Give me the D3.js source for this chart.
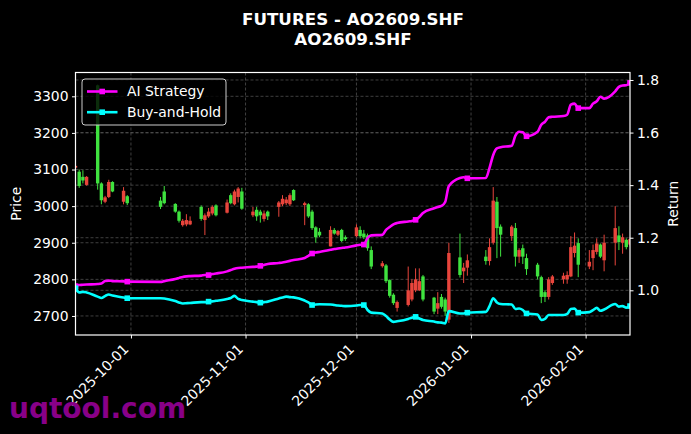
<!DOCTYPE html>
<html>
<head>
<meta charset="utf-8">
<script src="https://cdn.jsdelivr.net/npm/d3@7"></script>
<style>
  body{margin:0;background:#000;}
  text{font-family:"DejaVu Sans",sans-serif;}
</style>
</head>
<body>
<div id="container"></div>
<script>
let w = 691;
let h = 434;

// trading days
let dates = [
  "2025-09-16","2025-09-17","2025-09-18","2025-09-19","2025-09-22","2025-09-23","2025-09-24","2025-09-25","2025-09-26","2025-09-29","2025-09-30",
  "2025-10-09","2025-10-10","2025-10-13","2025-10-14","2025-10-15","2025-10-16","2025-10-17","2025-10-20","2025-10-21","2025-10-22","2025-10-23","2025-10-24","2025-10-27","2025-10-28","2025-10-29","2025-10-30","2025-10-31",
  "2025-11-03","2025-11-04","2025-11-05","2025-11-06","2025-11-07","2025-11-10","2025-11-11","2025-11-12","2025-11-13","2025-11-14","2025-11-17","2025-11-18","2025-11-19","2025-11-20","2025-11-21","2025-11-24","2025-11-25","2025-11-26","2025-11-27","2025-11-28",
  "2025-12-01","2025-12-02","2025-12-03","2025-12-04","2025-12-05","2025-12-08","2025-12-09","2025-12-10","2025-12-11","2025-12-12","2025-12-15","2025-12-16","2025-12-17","2025-12-18","2025-12-19","2025-12-22","2025-12-23","2025-12-24","2025-12-25","2025-12-26","2025-12-29","2025-12-30","2025-12-31",
  "2026-01-05","2026-01-06","2026-01-07","2026-01-08","2026-01-09","2026-01-12","2026-01-13","2026-01-14","2026-01-15","2026-01-16","2026-01-19","2026-01-20","2026-01-21","2026-01-22","2026-01-23","2026-01-26","2026-01-27","2026-01-28","2026-01-29","2026-01-30",
  "2026-02-02","2026-02-03","2026-02-04","2026-02-05","2026-02-06","2026-02-09","2026-02-10","2026-02-11","2026-02-12","2026-02-13"
];

let opens = [
  3105,3094,3080,3058,3330,3062,3012,3025,3066,3012,3027,
  3015,3040,3006,2985,2948,2950,2950,2998,2962,2972,2980,3002,2982,3030,3005,3025,3040,
  2975,2990,2985,2965,2985,2998,3005,3008,3005,3044,3003,3005,2985,2942,2930,2890,2935,2922,2935,2915,
  2918,2935,2925,2920,2880,2836,2838,2798,2758,2722,2730,2745,2770,2770,2808,2750,2720,2752,2745,2690,2860,2822,2832,
  2862,2850,2900,3012,2944,2918,2940,2862,2885,2858,2840,2806,2765,2752,2790,2800,2800,2808,2872,2899,
  2835,2858,2875,2895,2852,2900,2920,2900,2908,2895
];
let highs = [
  3112,3100,3098,3082,3332,3065,3028,3072,3068,3052,3030,
  3025,3055,3008,2988,2965,2978,2972,3002,2980,2995,3002,3005,3018,3035,3045,3052,3050,
  2998,2998,2990,2988,2988,3014,3030,3025,3035,3046,3012,3008,2990,2945,2940,2945,2940,2935,2938,2920,
  2950,2945,2935,2925,2890,2850,2842,2800,2762,2742,2835,2800,2830,2830,2812,2752,2765,2760,2750,2900,2925,2845,2868,
  2880,2912,3052,3025,2950,2948,2954,2885,2895,2870,2845,2810,2770,2806,2812,2818,2822,2918,2928,2912,
  2880,2895,2912,2898,2922,3000,2945,2925,2912,2915
];
let lows = [
  3103,3050,3062,3056,3045,3005,3008,3022,3038,3005,3003,
  2992,3005,2982,2955,2944,2945,2948,2960,2921,2968,2975,2972,2980,3005,3002,3010,2990,
  2970,2960,2955,2958,2962,2971,3000,3003,3000,3014,2948,2968,2935,2900,2915,2890,2922,2918,2902,2905,
  2915,2912,2910,2878,2828,2832,2790,2750,2730,2712,2726,2740,2765,2768,2740,2705,2705,2720,2700,2681,2805,2790,2810,
  2840,2838,2895,2858,2862,2905,2835,2845,2842,2812,2800,2735,2738,2745,2785,2788,2788,2806,2860,2806,
  2828,2825,2868,2858,2822,2838,2880,2870,2882,2890
];
let closes = [
  3110,3055,3070,3080,3062,3016,3024,3066,3040,3042,3008,
  2998,3008,2985,2960,2960,2962,2960,2965,2975,2985,2998,2975,3010,3008,3040,3048,2993,
  2985,2972,2975,2980,2972,3010,3020,3018,3030,3016,3008,2972,2940,2915,2920,2935,2925,2932,2905,2910,
  2942,2918,2915,2885,2835,2844,2795,2755,2735,2738,2770,2790,2800,2795,2745,2712,2735,2725,2712,2872,2812,2832,2852,
  2850,2888,3015,2940,2922,2944,2862,2880,2862,2828,2808,2752,2752,2800,2808,2810,2812,2888,2892,2840,
  2848,2880,2898,2862,2900,2940,2902,2915,2888,2910
];

let aiStrategy = [
  1.016,1.020,1.021,1.022,1.024,1.026,1.035,1.037,1.035,1.034,1.033,
  1.032,1.035,1.043,1.047,1.051,1.053,1.054,1.056,1.058,1.058,1.062,1.064,1.072,1.077,1.082,1.085,1.086,
  1.089,1.090,1.093,1.096,1.100,1.104,1.106,1.109,1.112,1.115,1.123,1.131,1.140,1.144,1.146,1.154,1.157,1.159,1.161,1.163,
  1.171,1.173,1.174,1.199,1.209,1.211,1.230,1.241,1.251,1.256,1.262,1.264,1.268,1.279,1.294,1.312,1.317,1.321,1.336,1.397,1.427,1.430,1.426,
  1.427,1.466,1.515,1.540,1.544,1.550,1.588,1.603,1.601,1.586,1.603,1.630,1.641,1.658,1.660,1.663,1.668,1.706,1.710,1.693,
  1.693,1.710,1.719,1.736,1.729,1.757,1.774,1.779,1.780,1.789
];
let buyHold = [
  1.008,0.992,0.994,0.992,0.976,0.971,0.978,0.984,0.980,0.973,0.970,
  0.970,0.969,0.959,0.954,0.950,0.951,0.952,0.955,0.955,0.957,0.958,0.960,0.967,0.971,0.979,0.967,0.963,
  0.957,0.955,0.953,0.955,0.957,0.969,0.973,0.976,0.974,0.973,0.961,0.954,0.944,0.946,0.947,0.946,0.944,0.942,0.941,0.940,
  0.942,0.944,0.944,0.925,0.915,0.912,0.902,0.889,0.880,0.882,0.891,0.896,0.899,0.893,0.887,0.881,0.878,0.877,0.874,0.921,0.912,0.912,0.915,
  0.918,0.940,0.970,0.954,0.948,0.946,0.929,0.931,0.925,0.912,0.908,0.887,0.891,0.906,0.906,0.906,0.910,0.929,0.931,0.915,
  0.917,0.925,0.933,0.922,0.927,0.948,0.938,0.940,0.934,0.940
];

let priceTicks = [2700,2800,2900,3000,3100,3200,3300];
let returnTicks = [1.0,1.2,1.4,1.6,1.8];
let dateTicks = ["2025-10-01","2025-11-01","2025-12-01","2026-01-01","2026-02-01"];
let seriesNames = ["AI Strategy","Buy-and-Hold"];
let seriesColors = ["#ff00ff","#00ffff"];

let parse = d3.timeParse("%Y-%m-%d");
let fmt = d3.timeFormat("%Y-%m-%d");

let pLeft = 75.5, pRight = 630, pTop = 72.5, pBottom = 335;

let rows = dates.map(function(d,i){
  return {date:parse(d), o:opens[i], h:highs[i], l:lows[i], c:closes[i], ai:aiStrategy[i], bh:buyHold[i], i:i};
});

let x = d3.scaleTime()
  .domain([parse("2025-09-16"), parse("2026-02-13")])
  .range([pLeft, pRight]);
let yPrice = d3.scaleLinear().domain([2648, 3365]).range([pBottom, pTop]);
let yRet = d3.scaleLinear().domain([0.830, 1.8285]).range([pBottom, pTop]);

let viz = d3.select("#container")
  .append("svg")
    .attr("width",w)
    .attr("height",h)
    .style("background-color","#000")
;

viz.append("defs").append("clipPath").attr("id","plotclip")
  .append("rect").attr("x",pLeft).attr("y",pTop).attr("width",pRight-pLeft).attr("height",pBottom-pTop);

// grid
let grid = viz.append("g").attr("stroke","#5a5a5a").attr("stroke-width",0.7).attr("stroke-dasharray","3,2");
dateTicks.forEach(function(t){
  grid.append("line").attr("x1",x(parse(t))).attr("x2",x(parse(t))).attr("y1",pTop).attr("y2",pBottom);
});
priceTicks.forEach(function(t){
  grid.append("line").attr("x1",pLeft).attr("x2",pRight).attr("y1",yPrice(t)).attr("y2",yPrice(t));
});
returnTicks.forEach(function(t){
  grid.append("line").attr("x1",pLeft).attr("x2",pRight).attr("y1",yRet(t)).attr("y2",yRet(t));
});

// candles
let up = "#e8453c", down = "#3fe23f";
let bw = 3.4;
let candles = viz.append("g").attr("clip-path","url(#plotclip)")
  .selectAll(".candle").data(rows).enter()
  .append("g").attr("class","candle");

candles.append("line")
  .attr("x1",d=>x(d.date)).attr("x2",d=>x(d.date))
  .attr("y1",d=>yPrice(d.h)).attr("y2",d=>yPrice(d.l))
  .attr("stroke",d=>d.c>=d.o?up:down).attr("stroke-width",1);

candles.append("rect")
  .attr("x",d=>x(d.date)-bw/2).attr("width",bw)
  .attr("y",d=>yPrice(Math.max(d.o,d.c)))
  .attr("height",d=>Math.max(1,Math.abs(yPrice(d.o)-yPrice(d.c))))
  .attr("fill",d=>d.c>=d.o?up:down);

// legend box (sits under the return lines)
let legend = viz.append("g");
legend.append("rect")
  .attr("x",82).attr("y",79).attr("width",144).attr("height",46).attr("rx",3)
  .attr("fill","#000").attr("fill-opacity",0.8)
  .attr("stroke","#cccccc").attr("stroke-width",1);

// return lines
let lineGroup = viz.append("g").attr("clip-path","url(#plotclip)");
let keys = ["ai","bh"];
keys.forEach(function(k,j){
  let line = d3.line().x(d=>x(d.date)).y(d=>yRet(d[k])).curve(d3.curveMonotoneX);
  lineGroup.append("path").datum(rows)
    .attr("d",line).attr("fill","none")
    .attr("stroke",seriesColors[j]).attr("stroke-width",2.6)
    .attr("stroke-linejoin","round");
  lineGroup.selectAll(".mk"+k).data(rows.filter(d=>d.i%10==0)).enter()
    .append("rect")
      .attr("x",d=>x(d.date)-2.8).attr("y",d=>yRet(d[k])-2.8)
      .attr("width",5.6).attr("height",5.6)
      .attr("fill",seriesColors[j]);
});

seriesNames.forEach(function(name,j){
  let ly = 91.5 + j*20.7;
  legend.append("line").attr("x1",87).attr("x2",117.5).attr("y1",ly).attr("y2",ly)
    .attr("stroke",seriesColors[j]).attr("stroke-width",2.6);
  legend.append("rect").attr("x",102.2-2.8).attr("y",ly-2.8).attr("width",5.6).attr("height",5.6)
    .attr("fill",seriesColors[j]);
  legend.append("text").attr("x",127).attr("y",ly+4.8)
    .attr("fill","#fff").style("font-size","13.9px").text(name);
});

// frame
viz.append("rect").attr("x",pLeft).attr("y",pTop).attr("width",pRight-pLeft).attr("height",pBottom-pTop)
  .attr("fill","none").attr("stroke","#fff").attr("stroke-width",1.2);

// axes
let leftAxis = viz.append("g").attr("transform","translate("+pLeft+",0)")
  .call(d3.axisLeft(yPrice).tickValues(priceTicks).tickSize(3.5).tickPadding(3.5).tickFormat(d3.format("d")));
let rightAxis = viz.append("g").attr("transform","translate("+pRight+",0)")
  .call(d3.axisRight(yRet).tickValues(returnTicks).tickSize(3.5).tickPadding(3.5).tickFormat(d3.format(".1f")));
let bottomAxis = viz.append("g").attr("transform","translate(0,"+pBottom+")")
  .call(d3.axisBottom(x).tickValues(dateTicks.map(parse)).tickSize(3.5).tickFormat(fmt));

[leftAxis,rightAxis,bottomAxis].forEach(function(a){
  a.select(".domain").remove();
  a.selectAll("line").attr("stroke","#fff");
  a.selectAll("text").attr("fill","#fff").style("font-size","13.9px").style("font-family","DejaVu Sans");
});

bottomAxis.selectAll("text")
  .attr("text-anchor","end")
  .attr("x",0).attr("y",0).attr("dy",0)
  .attr("transform","translate(-2,15) rotate(-45)");

// axis labels
viz.append("text").attr("transform","translate(21,"+((pTop+pBottom)/2)+") rotate(-90)")
  .attr("text-anchor","middle").attr("fill","#fff").style("font-size","13.9px").text("Price");
viz.append("text").attr("transform","translate(678,"+((pTop+pBottom)/2)+") rotate(-90)")
  .attr("text-anchor","middle").attr("fill","#fff").style("font-size","13.9px").text("Return");

// title
viz.append("text").attr("x",353).attr("y",25).attr("text-anchor","middle")
  .attr("fill","#fff").style("font-size","16.7px").style("font-weight","bold").text("FUTURES - AO2609.SHF");
viz.append("text").attr("x",353).attr("y",45).attr("text-anchor","middle")
  .attr("fill","#fff").style("font-size","16.7px").style("font-weight","bold").text("AO2609.SHF");

// watermark
viz.append("text").attr("x",9).attr("y",418)
  .attr("fill","#880088").style("font-size","28px").style("font-weight","bold").text("uqtool.com");
</script>
</body>
</html>
